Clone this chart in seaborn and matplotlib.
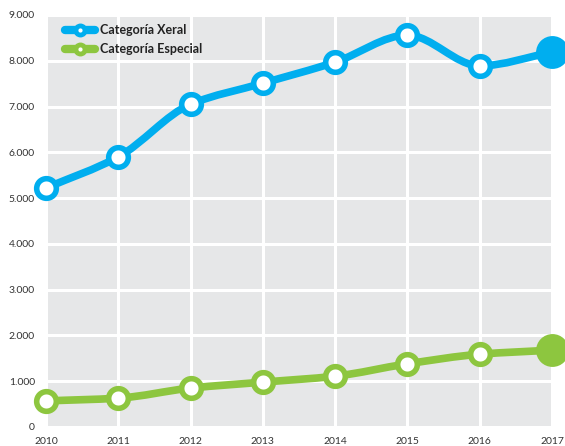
import numpy as np
import pandas as pd
import seaborn as sns
import matplotlib
matplotlib.use("Agg")
import matplotlib.pyplot as plt
from matplotlib.path import Path
from matplotlib.patches import PathPatch
from matplotlib.lines import Line2D
from matplotlib.ticker import FuncFormatter, MultipleLocator
from matplotlib.legend_handler import HandlerTuple

years = [2010, 2011, 2012, 2013, 2014, 2015, 2016, 2017]
xeral = [5220, 5900, 7050, 7510, 7970, 8560, 7890, 8190]
especial = [570, 630, 850, 980, 1110, 1380, 1590, 1680]
series_names = ["Categoría Xeral", "Categoría Especial"]
series_colors = ["#00AEEF", "#8DC63F"]

df = pd.DataFrame({
    "year": years * 2,
    "value": xeral + especial,
    "serie": [series_names[0]] * len(years) + [series_names[1]] * len(years),
})

sns.set_style("darkgrid", {
    "axes.facecolor": "#E6E7E8",
    "grid.color": "white",
    "axes.edgecolor": "white",
})
plt.rcParams["font.family"] = ["Lato", "DejaVu Sans"]

fig = plt.figure(figsize=(5.65, 4.46), dpi=100)
ax = fig.add_axes([46 / 565, 19 / 446, 506 / 565, 412 / 446])


def monotone_path(x, y):
    """Smooth monotone cubic (Fritsch-Carlson) curve as Bezier segments."""
    x = np.asarray(x, float)
    y = np.asarray(y, float)
    h = np.diff(x)
    d = np.diff(y) / h
    m = np.zeros_like(y)
    m[0], m[-1] = d[0], d[-1]
    for i in range(1, len(y) - 1):
        if d[i - 1] * d[i] <= 0:
            m[i] = 0.0
        else:
            w1 = 2 * h[i] + h[i - 1]
            w2 = h[i] + 2 * h[i - 1]
            m[i] = (w1 + w2) / (w1 / d[i - 1] + w2 / d[i])
    verts = [(x[0], y[0])]
    codes = [Path.MOVETO]
    for i in range(len(x) - 1):
        verts += [(x[i] + h[i] / 3, y[i] + m[i] * h[i] / 3),
                  (x[i + 1] - h[i] / 3, y[i + 1] - m[i + 1] * h[i] / 3),
                  (x[i + 1], y[i + 1])]
        codes += [Path.CURVE4] * 3
    return Path(verts, codes)


for name, color in zip(series_names, series_colors):
    sub = df[df["serie"] == name]
    patch = PathPatch(monotone_path(sub["year"], sub["value"]), facecolor="none",
                      edgecolor=color, lw=5.5, capstyle="butt", joinstyle="round",
                      zorder=2, clip_on=False)
    ax.add_patch(patch)

    first = sub.iloc[:-1]
    last = sub.iloc[-1:]
    sns.scatterplot(data=first, x="year", y="value", ax=ax, s=200,
                    color="white", edgecolor=color, linewidth=4,
                    zorder=3, clip_on=False, legend=False)
    sns.scatterplot(data=last, x="year", y="value", ax=ax, s=560,
                    color=color, edgecolor=color, linewidth=0,
                    zorder=3, clip_on=False, legend=False)

ax.set_xlim(2010, 2017)
ax.set_ylim(0, 9000)
ax.set_xticks(years)
ax.yaxis.set_major_locator(MultipleLocator(1000))
ax.yaxis.set_major_formatter(FuncFormatter(lambda v, p: f"{int(v):,}".replace(",", ".")))
ax.grid(True, color="white", lw=2.2)
ax.set_axisbelow(True)
for s in ax.spines.values():
    s.set_visible(False)
ax.tick_params(axis="both", length=0, labelsize=7.5, colors="#333333")
ax.tick_params(axis="y", pad=8)
ax.tick_params(axis="x", pad=7)
ax.set_xlabel("")
ax.set_ylabel("")

handles = []
for color in series_colors:
    bar = Line2D([], [], color=color, lw=6, marker="o", markersize=9,
                 markerfacecolor=color, markeredgecolor=color)
    dot = Line2D([], [], color="none", marker="o", markersize=2,
                 markerfacecolor="white", markeredgecolor="white")
    handles.append((bar, dot))
leg = ax.legend(handles, series_names, loc="upper left",
                bbox_to_anchor=(8 / 506, 1 + 2 / 412), frameon=False,
                fontsize=9, handlelength=2.4, handletextpad=0.4,
                labelspacing=0.55,
                handler_map={tuple: HandlerTuple(ndivide=1, pad=0)})
for t in leg.get_texts():
    t.set_color("#222222")
    t.set_fontweight("bold")

fig.savefig("out.png", dpi=100)
